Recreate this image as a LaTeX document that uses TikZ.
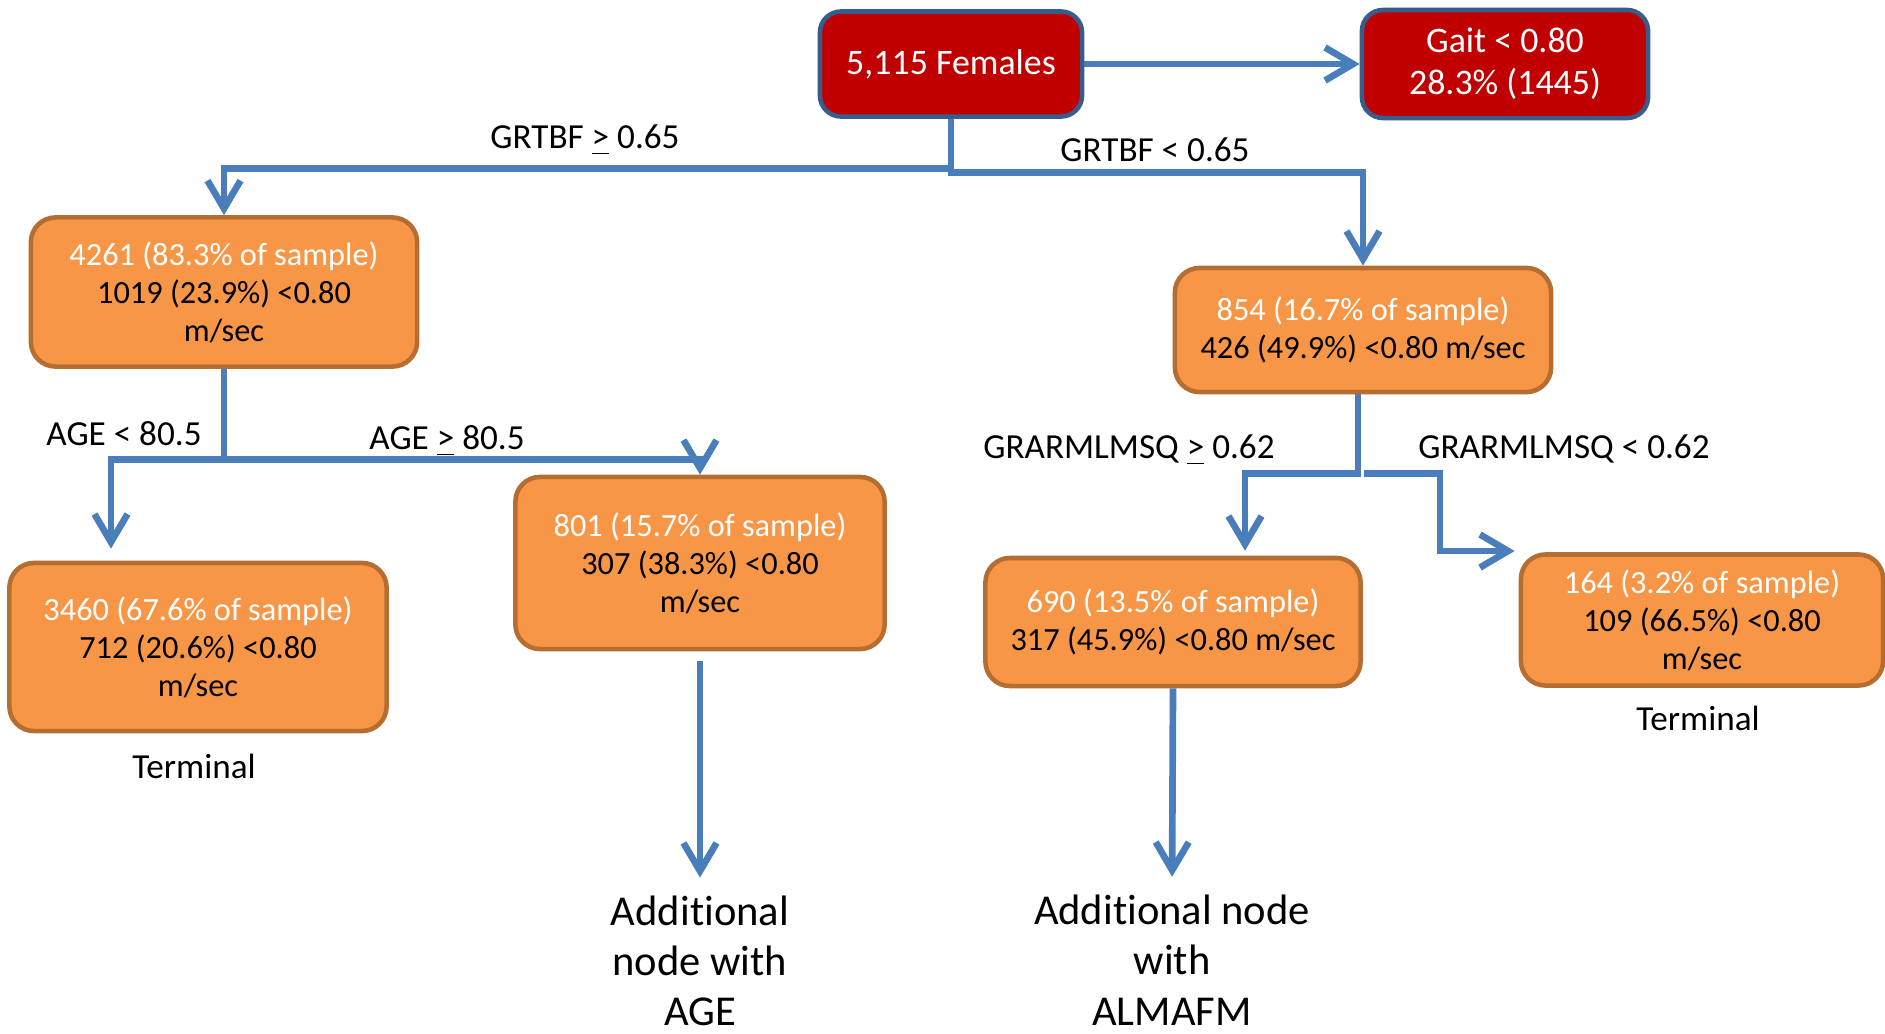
\documentclass[tikz,border=0pt]{standalone}
\usepackage{fontspec}
\setmainfont{Carlito}[Ligatures=NoCommon]
\usetikzlibrary{arrows.meta,positioning}
\definecolor{rootred}{HTML}{C00000}
\definecolor{rootedge}{HTML}{385D8A}
\definecolor{grpfill}{HTML}{F79646}
\definecolor{grpedge}{HTML}{B66D31}
\definecolor{linkblue}{HTML}{4A7EBB}
\newcommand{\share}[1]{\textcolor{white}{#1}}

\begin{document}
\begin{tikzpicture}[x=0.01cm,y=-0.01cm,
  font=\fontsize{9.2}{10.8}\selectfont,
  top/.style={draw=rootedge,line width=1.3pt,fill=rootred,text=white,
    rounded corners=6pt,align=center,inner sep=0pt,
    font=\fontsize{10.2}{12}\selectfont},
  grp/.style={draw=grpedge,line width=1.3pt,fill=grpfill,
    rounded corners=7pt,align=center,inner sep=0pt},
  flow/.style={-{Straight Barb[length=2.8mm,width=3.3mm]},
    draw=linkblue,line width=1.9pt},
  cut/.style={font=\fontsize{10}{12}\selectfont,inner sep=0pt},
  more/.style={font=\fontsize{12.1}{14.3}\selectfont,align=center,
    inner sep=0pt}]
\useasboundingbox (0,0) rectangle (1885,1033);

% whole sample and the slow-gait share
\node[top,minimum width=2.62cm,minimum height=1.05cm] (root) at (951,64) {5,115 Females};
\node[top,minimum width=2.86cm,minimum height=1.08cm] (gait) at (1505,64) {Gait < 0.80\\28.3\% (1445)};

% first split
\node[grp,minimum width=3.86cm,minimum height=1.49cm] (n4261) at (224,292)
  {\share{4261 (83.3\% of sample)}\\1019 (23.9\%) <0.80\\m/sec};
\node[grp,minimum width=3.76cm,minimum height=1.24cm] (n854) at (1363,330)
  {\share{854 (16.7\% of sample)}\\426 (49.9\%) <0.80 m/sec};

% second level
\node[grp,minimum width=3.77cm,minimum height=1.68cm] (n3460) at (198,647)
  {\share{3460 (67.6\% of sample)}\\712 (20.6\%) <0.80\\m/sec};
\node[grp,minimum width=3.69cm,minimum height=1.72cm] (n801) at (700,563)
  {\share{801 (15.7\% of sample)}\\307 (38.3\%) <0.80\\m/sec};
\node[grp,minimum width=3.75cm,minimum height=1.28cm] (n690) at (1173,622)
  {\share{690 (13.5\% of sample)}\\317 (45.9\%) <0.80 m/sec};
\node[grp,minimum width=3.62cm,minimum height=1.31cm] (n164) at (1702,620)
  {\share{164 (3.2\% of sample)}\\109 (66.5\%) <0.80\\m/sec};

\node[cut] (term1) at (194,766) {Terminal};
\node[cut] (term2) at (1698,718) {Terminal};
\node[more] (moreAge) at (700,961) {Additional\\node with\\AGE};
\node[more] (moreAlma) at (1172,960) {Additional node\\with\\ALMAFM};

% connectors
\draw[flow] (root.east) -- (root.east -| gait.west);
\draw[flow] (root.south) -- ++(0,50) -| (n4261.north);
\draw[flow] (root.south) -- ++(0,54) -| (n854.north);
\draw[flow,shorten >=1.2mm] (n4261.south) -- ++(0,91) -| ([shift={(-87,0)}]n3460.north);
\draw[flow] (n4261.south) -- ++(0,91) -| (n801.north);
\draw[flow,shorten <=1mm,shorten >=1.75mm] (n801.south) -- (moreAge.north);
\draw[flow] ([shift={(-5,0)}]n854.south) -- ++(0,79) -| ([shift={(72,-5)}]n690.north);
\draw[flow] ([shift={(1,79)}]n854.south) -- ++(76,0) |- ([shift={(-4,-69)}]n164.west);
\draw[flow,shorten >=1.75mm] (n690.south) -- (moreAlma.north);

% split conditions
\node[cut] (grtbfHi) at (585,140) {GRTBF \underline{>} 0.65};
\node[cut] (grtbfLo) at (1155,150) {GRTBF < 0.65};
\node[cut] (ageLo) at (124,434) {AGE < 80.5};
\node[cut] (ageHi) at (447,441) {AGE \underline{>} 80.5};
\node[cut] (armHi) at (1129,450) {GRARMLMSQ \underline{>} 0.62};
\node[cut] (armLo) at (1564,449) {GRARMLMSQ < 0.62};
\end{tikzpicture}
\end{document}
